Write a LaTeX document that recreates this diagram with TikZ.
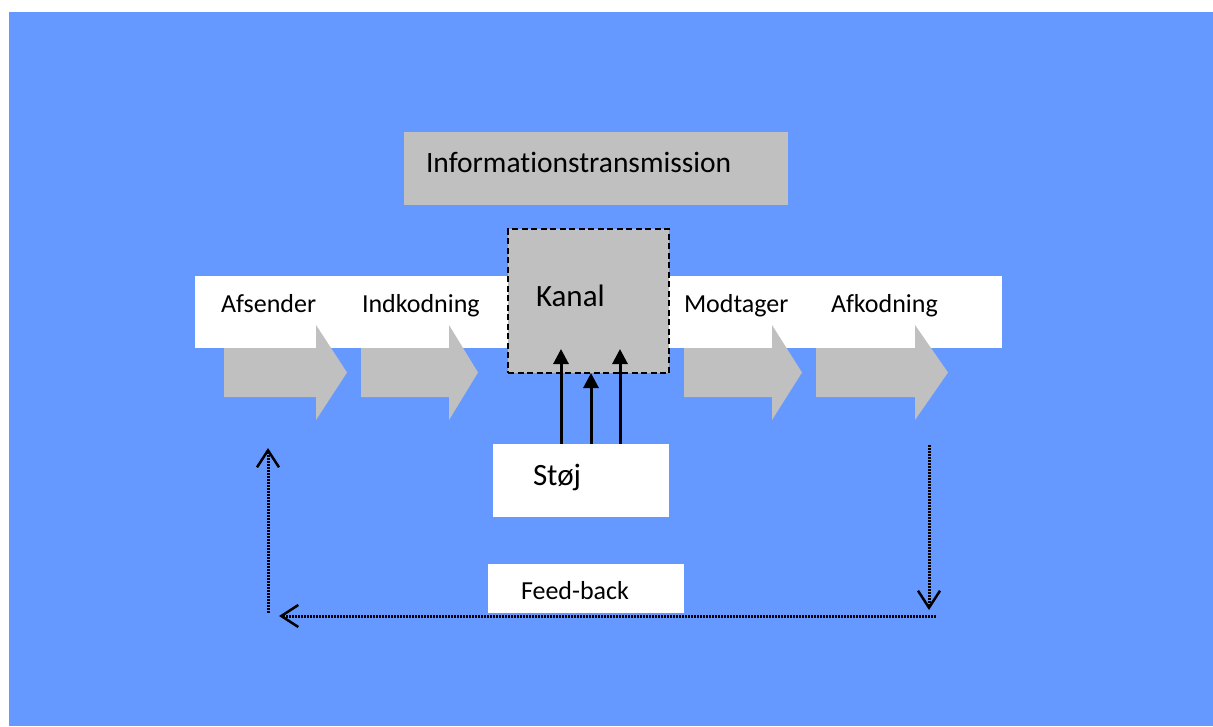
\documentclass[tikz,border=0pt]{standalone}
\usepackage{fontspec}
\setmainfont{Carlito}[Ligatures={NoCommon}]
\usetikzlibrary{arrows.meta}
\definecolor{bgblue}{RGB}{102,153,255}
\definecolor{boxgray}{RGB}{192,192,192}
\begin{document}
\begin{tikzpicture}[x=1pt,y=-1pt,
  box/.style={inner sep=0pt, outer sep=0pt, anchor=north west},
  lbl/.style={inner sep=0pt, outer sep=0pt, anchor=base west, font=\fontsize{26}{30}\selectfont},
  biglbl/.style={lbl, font=\fontsize{31}{36}\selectfont},
  blockarrow/.style={fill=boxgray},
  noisearrow/.style={line width=3pt, -{Triangle[length=15pt,width=15pt]}},
  feedline/.style={line width=3pt, dash pattern=on 2pt off 1pt},
  feedarrow/.style={feedline, -{Straight Barb[length=17pt,width=22pt,line width=2.5pt]}}
]
\useasboundingbox (0,0) rectangle (1213,726);
\fill[bgblue] (9,12) rectangle (1213,726);

% title box
\node[box, fill=boxgray, minimum width=384pt, minimum height=73pt] (info) at (404,132) {};
\node[lbl, font=\fontsize{29.5}{34}\selectfont] (infot) at (426,172) {Informationstransmission};

% white band
\node[box, fill=white, minimum width=807pt, minimum height=72pt] (band) at (195,276) {};

% block arrows
\fill[blockarrow] (224,348) -- (316,348) -- (316,325) -- (347,372.5) -- (316,420) -- (316,397) -- (224,397) -- cycle;
\fill[blockarrow] (361,348) -- (449,348) -- (449,325) -- (478,372.5) -- (449,420) -- (449,397) -- (361,397) -- cycle;
\fill[blockarrow] (684,348) -- (772,348) -- (772,325) -- (802,372.5) -- (772,420) -- (772,397) -- (684,397) -- cycle;
\fill[blockarrow] (816,348) -- (915,348) -- (915,325) -- (948,372.5) -- (915,420) -- (915,397) -- (816,397) -- cycle;

\node[lbl] (afs) at (221,312) {Afsender};
\node[lbl] (ind) at (362,312) {Indkodning};
\node[lbl] (mod) at (684,312) {Modtager};
\node[lbl] (afk) at (831,312) {Afkodning};

% Kanal
\node[box, fill=boxgray, draw=black, line width=2pt, dash pattern=on 6pt off 3.5pt,
      minimum width=161pt, minimum height=144pt] (kanal) at (508,229) {};
\node[biglbl] (kanalt) at (536,306) {Kanal};

% Stoj
\node[box, fill=white, minimum width=176pt, minimum height=73pt] (stoj) at (493,444) {};
\node[biglbl] (stojt) at (533,485) {Støj};

\coordinate (n1) at (561,349);
\coordinate (n2) at (591,373);
\coordinate (n3) at (620,349);
\draw[noisearrow] (stoj.north -| n1) -- (n1);
\draw[noisearrow] (stoj.north -| n2) -- (n2);
\draw[noisearrow] (stoj.north -| n3) -- (n3);

% Feed-back
\node[box, fill=white, minimum width=196pt, minimum height=49pt] (fb) at (488,564) {};
\node[lbl] (fbt) at (521,599) {Feed-back};

\coordinate (f1) at (929,445);
\coordinate (f2) at (929,610);
\coordinate (f3) at (936,616);
\coordinate (f4) at (279,616);
\coordinate (f5) at (268,613);
\coordinate (f6) at (268,448);
\draw[feedarrow] (f1) -- (f2);
\draw[feedarrow] (f3) -- (f4);
\draw[feedarrow] (f5) -- (f6);
\end{tikzpicture}
\end{document}
